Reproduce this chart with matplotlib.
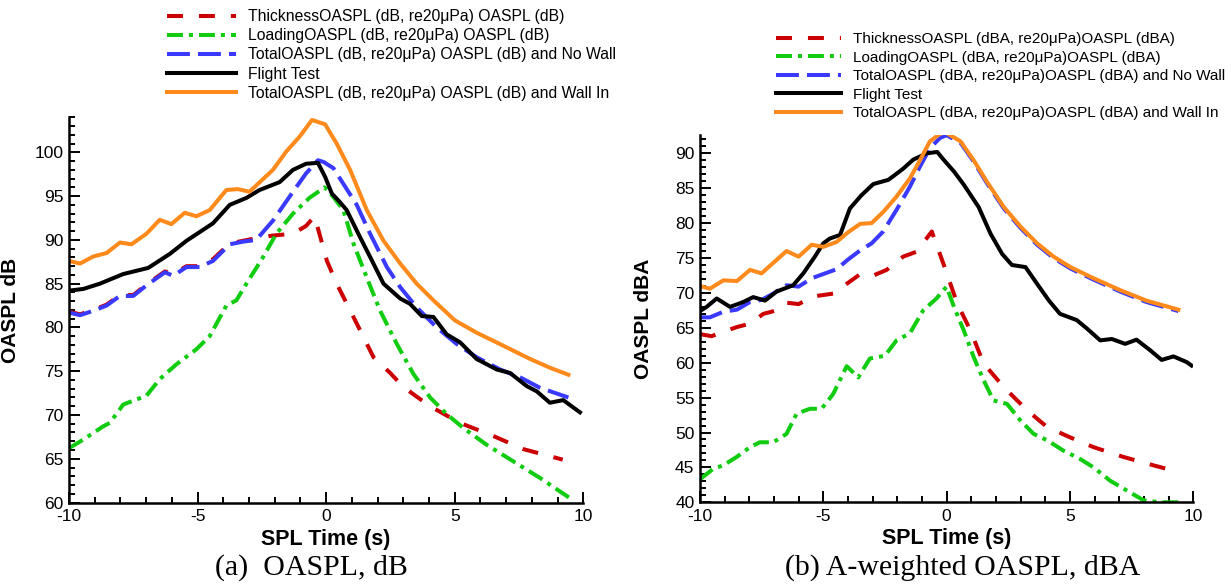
import matplotlib
matplotlib.use("Agg")
import matplotlib.pyplot as plt
from matplotlib.ticker import MultipleLocator

plt.rcParams['font.family'] = ['Liberation Sans', 'DejaVu Sans']
plt.rcParams['lines.scale_dashes'] = False
plt.rcParams['axes.unicode_minus'] = False

# ---------------- (a) OASPL, dB ----------------
a_thick_t = [-10, -9.57, -9.06, -8.54, -8.02, -7.5, -6.99, -6.27, -5.95, -5.43, -4.92, -4.4, -3.75,
             -3.23, -2.72, -2.07, -1.29, -0.78, -0.45, 0.03, 0.41, 1.13, 1.84, 2.49, 3.0, 4.04,
             5.2, 6.5, 7.67, 9.2]
a_thick = [81.8, 81.5, 82.0, 82.6, 83.7, 83.7, 84.9, 86.4, 86.1, 87.0, 87.0, 87.8, 89.6,
           89.9, 90.2, 90.5, 90.7, 91.6, 92.7, 87.6, 85.0, 80.8, 76.6, 74.8, 73.2, 71.0,
           69.1, 67.6, 66.1, 64.9]

a_load_t = [-10, -9.44, -8.67, -8.41, -7.89, -6.99, -6.47, -5.82, -5.05, -4.53, -3.88, -3.49, -3.1,
            -2.46, -1.94, -1.29, -0.65, -0.06, 0.28, 0.67, 1.06, 1.58, 2.1, 2.75, 3.39, 4.04,
            4.69, 5.34, 6.24, 7.28, 8.32, 9.48]
a_load = [66.2, 67.2, 68.7, 69.1, 71.2, 72.2, 74.1, 75.8, 77.5, 79.0, 82.5, 83.1, 85.0,
          88.0, 90.7, 93.0, 94.8, 96.0, 94.9, 93.4, 89.6, 85.7, 81.9, 78.1, 74.7, 72.0,
          70.1, 68.5, 66.6, 64.7, 62.8, 60.5]

a_total_t = [-10, -9.57, -9.06, -8.54, -8.02, -7.5, -6.99, -6.27, -5.95, -5.43, -4.92, -4.4, -3.75,
             -3.23, -2.72, -2.07, -1.29, -0.78, -0.32, -0.1, 0.28, 0.67, 1.19, 1.71, 2.36, 2.88,
             3.52, 4.3, 5.08, 5.85, 6.76, 7.54, 8.32, 9.42]
a_total = [81.7, 81.4, 81.9, 82.5, 83.6, 83.6, 84.8, 86.3, 85.9, 86.9, 86.9, 87.6, 89.5,
           89.8, 90.0, 92.2, 95.5, 97.6, 99.1, 98.9, 98.2, 96.4, 94.0, 90.7, 86.9, 84.6,
           82.3, 80.0, 78.1, 76.6, 75.2, 74.3, 73.1, 72.0]

a_flight_t = [-10, -9.44, -8.8, -7.89, -6.92, -6.08, -5.43, -4.4, -3.75, -3.1, -2.59, -1.81, -1.29,
              -0.78, -0.32, -0.04, 0.22, 0.54, 0.8, 1.32, 1.77, 2.23, 2.88, 3.26, 3.72, 4.17,
              4.69, 5.21, 5.85, 6.63, 7.15, 7.8, 8.19, 8.7, 9.22, 9.87]
a_flight = [84.2, 84.4, 85.0, 86.1, 86.8, 88.4, 89.9, 91.9, 94.0, 94.8, 95.7, 96.6, 98.0,
            98.7, 98.8, 97.2, 95.3, 94.3, 93.4, 90.3, 87.7, 85.0, 83.3, 82.7, 81.3, 81.2,
            79.2, 78.3, 76.4, 75.2, 74.8, 73.3, 72.7, 71.4, 71.7, 70.3]

a_wall_t = [-10, -9.57, -9.06, -8.54, -8.02, -7.57, -6.99, -6.47, -6.02, -5.5, -5.05, -4.53, -3.88,
            -3.43, -2.98, -2.07, -1.55, -1.03, -0.55, -0.04, 0.41, 0.93, 1.58, 2.23, 2.88, 3.52,
            4.17, 5.01, 5.85, 6.76, 7.93, 8.7, 9.42]
a_wall = [87.6, 87.3, 88.1, 88.5, 89.7, 89.5, 90.7, 92.3, 91.8, 93.1, 92.7, 93.4, 95.7,
          95.8, 95.5, 98.0, 100.1, 101.8, 103.7, 103.2, 101.0, 98.0, 93.4, 89.9, 87.3, 85.0,
          83.1, 80.8, 79.4, 78.1, 76.4, 75.4, 74.6]

# ---------------- (b) A-weighted OASPL, dBA ----------------
b_thick_t = [-10, -9.53, -8.92, -8.51, -7.97, -7.43, -6.89, -6.49, -6.0, -5.4, -4.6, -4.05, -3.5,
             -2.97, -2.43, -1.76, -1.22, -0.6, -0.04, 0.43, 0.97, 1.5, 2.32, 3.26, 4.07, 5.01,
             5.96, 7.17, 8.38, 9.46]
b_thick = [64.1, 63.8, 64.6, 65.1, 65.6, 67.0, 67.5, 68.6, 68.4, 69.5, 69.9, 71.3, 72.7,
           72.5, 73.3, 75.2, 75.9, 78.8, 73.3, 68.5, 64.6, 59.9, 56.5, 53.2, 50.8, 49.3,
           47.9, 46.5, 45.3, 44.3]

b_load_t = [-10, -9.46, -9.05, -8.51, -7.97, -7.57, -7.03, -6.49, -6.08, -5.54, -5.07, -4.6, -4.05,
            -3.58, -3.11, -2.5, -2.03, -1.49, -0.95, -0.41, 0.0, 0.3, 0.7, 1.1, 1.5, 1.9, 2.45,
            3.0, 3.53, 4.07, 4.74, 5.42, 5.96, 6.63, 7.3, 7.98, 8.65, 9.46]
b_load = [43.3, 44.8, 45.3, 46.5, 47.9, 48.6, 48.6, 49.8, 52.7, 53.4, 53.4, 55.5, 59.5,
          57.9, 60.6, 61.0, 63.2, 64.2, 67.5, 69.2, 70.9, 68.0, 64.6, 60.8, 57.5, 54.6, 54.1,
          51.7, 49.8, 48.9, 47.4, 46.2, 45.0, 43.1, 41.7, 40.3, 40.0, 40.0]

b_total_t = [-10, -9.6, -9.05, -8.5, -7.97, -7.5, -7.03, -6.49, -6.0, -5.47, -5.0, -4.46, -3.99,
             -3.5, -3.04, -2.57, -2.03, -1.49, -1.08, -0.68, -0.27, 0.0, 0.57, 1.1, 1.64, 2.32,
             3.0, 3.67, 4.34, 5.02, 5.96, 7.04, 8.1, 9.4]
b_total = [66.5, 66.5, 67.3, 67.6, 68.7, 69.0, 69.9, 71.1, 70.9, 72.1, 72.7, 73.4, 74.8,
           76.1, 77.1, 78.8, 81.9, 85.2, 88.1, 90.7, 92.2, 92.6, 91.5, 88.8, 85.7, 82.1,
           79.3, 76.9, 75.0, 73.5, 71.9, 70.2, 68.7, 67.4]

b_flight_t = [-10, -9.73, -9.32, -8.78, -8.24, -7.84, -7.36, -6.89, -6.22, -5.81, -5.34, -5.0, -4.73,
              -4.32, -3.92, -3.45, -2.97, -2.36, -1.76, -1.35, -0.81, -0.38, -0.1, 0.3, 0.7, 1.3,
              1.78, 2.25, 2.65, 3.2, 3.67, 4.15, 4.6, 5.28, 5.69, 6.23, 6.7, 7.24, 7.7, 8.25,
              8.72, 9.2, 9.73, 9.93]
b_flight = [67.4, 68.0, 69.2, 68.0, 68.7, 69.4, 68.9, 70.2, 71.1, 72.8, 75.2, 77.1, 77.8,
            78.3, 82.1, 84.0, 85.6, 86.2, 87.8, 89.1, 90.0, 90.2, 89.0, 87.4, 85.5, 82.3,
            78.5, 75.6, 74.0, 73.7, 71.3, 68.9, 67.0, 66.1, 64.9, 63.2, 63.4, 62.7, 63.3, 61.8,
            60.4, 60.9, 60.1, 59.6]

b_wall_t = [-10, -9.6, -9.05, -8.5, -7.97, -7.5, -7.03, -6.49, -6.0, -5.47, -5.0, -4.46, -3.99,
            -3.5, -3.04, -2.57, -2.03, -1.49, -1.08, -0.68, -0.27, -0.04, 0.57, 1.1, 1.64, 2.32,
            3.0, 3.67, 4.34, 5.02, 5.96, 7.04, 8.1, 9.4]
b_wall = [71.0, 70.6, 71.8, 71.7, 73.3, 72.8, 74.3, 76.0, 75.2, 76.9, 76.6, 77.3, 78.7,
          79.9, 80.0, 81.6, 83.8, 86.4, 89.0, 91.7, 92.8, 93.0, 91.7, 89.0, 85.9, 82.3,
          79.5, 77.1, 75.2, 73.7, 72.1, 70.4, 68.9, 67.6]

a_labels = ["ThicknessOASPL (dB, re20μPa) OASPL (dB)",
            "LoadingOASPL (dB, re20μPa) OASPL (dB)",
            "TotalOASPL (dB, re20μPa) OASPL (dB) and No Wall",
            "Flight Test",
            "TotalOASPL (dB, re20μPa) OASPL (dB) and Wall In"]
b_labels = ["ThicknessOASPL (dBA, re20μPa)OASPL (dBA)",
            "LoadingOASPL (dBA, re20μPa)OASPL (dBA)",
            "TotalOASPL (dBA, re20μPa)OASPL (dBA) and No Wall",
            "Flight Test",
            "TotalOASPL (dBA, re20μPa)OASPL (dBA) and Wall In"]

red = "#cc0000"
green = "#11cc11"
blue = "#3a3aff"
orange = "#ff8a1c"
lw = 2.9


def draw(ax, series, labels):
    lines = []
    styles = [dict(color=red, dashes=(11.5, 11.5)),
              dict(color=green, dashes=(11.5, 4.3, 2.9, 4.3)),
              dict(color=blue, dashes=(16.5, 5.8)),
              dict(color="black"),
              dict(color=orange)]
    for (t, v), lab, st in zip(series, labels, styles):
        ln, = ax.plot(t, v, lw=lw, label=lab, **st)
        lines.append(ln)
    ax.set_xlim(-10, 10)
    ax.spines['top'].set_visible(False)
    ax.spines['right'].set_visible(False)
    ax.spines['left'].set_linewidth(1.8)
    ax.spines['bottom'].set_linewidth(1.8)
    ax.xaxis.set_major_locator(MultipleLocator(5))
    ax.xaxis.set_minor_locator(MultipleLocator(1))
    ax.yaxis.set_major_locator(MultipleLocator(5))
    ax.yaxis.set_minor_locator(MultipleLocator(1))
    ax.tick_params(which='both', direction='in', width=1.4, labelsize=12.5)
    ax.tick_params(which='major', length=8)
    ax.tick_params(which='minor', length=4.5)
    ax.tick_params(axis='x', pad=5)
    ax.tick_params(axis='y', pad=4)
    ax.set_xlabel("SPL Time (s)", fontsize=15.5, fontweight='bold', labelpad=3)
    return lines


fig = plt.figure(figsize=(12.31, 5.87), dpi=100)

ax1 = fig.add_axes([0.05605, 0.1439, 0.4178, 0.6562])
lines1 = draw(ax1, [(a_thick_t, a_thick), (a_load_t, a_load), (a_total_t, a_total),
                    (a_flight_t, a_flight), (a_wall_t, a_wall)], a_labels)
ax1.set_ylim(60, 104)
ax1.set_ylabel("OASPL dB", fontsize=15, fontweight='bold')
ax1.yaxis.set_label_coords(-0.095, 0.5)

ax2 = fig.add_axes([0.5686, 0.1443, 0.4007, 0.6254])
lines2 = draw(ax2, [(b_thick_t, b_thick), (b_load_t, b_load), (b_total_t, b_total),
                    (b_flight_t, b_flight), (b_wall_t, b_wall)], b_labels)
ax2.set_ylim(40, 92.6)
ax2.set_ylabel("OASPL dBA", fontsize=15, fontweight='bold')
ax2.yaxis.set_label_coords(-0.095, 0.5)

fig.legend(handles=lines1, loc='upper left', bbox_to_anchor=(167 / 1231, 1 - 9 / 587),
           frameon=False, fontsize=11.3, handlelength=4.4, handletextpad=0.78,
           labelspacing=0.27, borderpad=0, borderaxespad=0)
fig.legend(handles=lines2, loc='upper left', bbox_to_anchor=(776 / 1231, 1 - 32 / 587),
           frameon=False, fontsize=11, handlelength=4.25, handletextpad=0.8,
           labelspacing=0.3, borderpad=0, borderaxespad=0)

fig.text(311 / 1231, 1 - 568 / 587, "(a)  OASPL, dB", family=['Liberation Serif', 'DejaVu Serif'],
         fontsize=21.5, ha='center', va='center')
fig.text(963 / 1231, 1 - 568 / 587, "(b) A-weighted OASPL, dBA", family=['Liberation Serif', 'DejaVu Serif'],
         fontsize=21.5, ha='center', va='center')

fig.savefig("out.png", dpi=100)
